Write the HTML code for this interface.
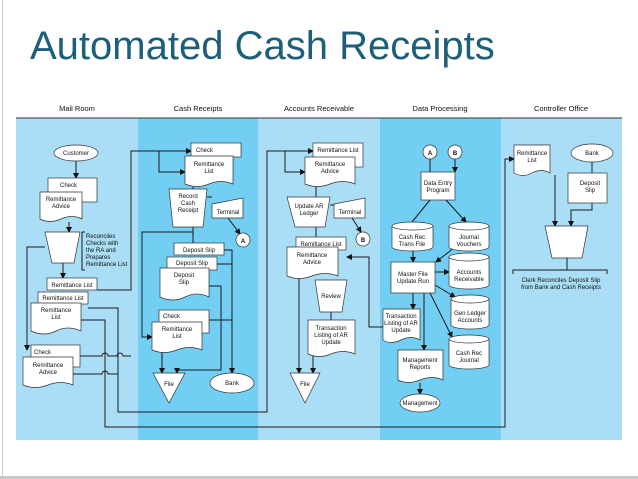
<!DOCTYPE html>
<html><head><meta charset="utf-8"><style>
html,body{margin:0;padding:0;width:638px;height:479px;overflow:hidden;background:#fff}
.t{position:absolute;left:30px;top:24px;font:40px "Liberation Sans",sans-serif;color:#1d5f78;white-space:nowrap}
svg{position:absolute;left:0;top:0}
text{font-family:"Liberation Sans",sans-serif;font-size:6px;fill:#111}
</style></head><body>
<div style="position:absolute;left:2px;top:0;width:1px;height:479px;background:#ccc"></div>
<div style="position:absolute;left:0;top:476px;width:638px;height:3px;background:#c8c8c8"></div>
<div class="t">Automated Cash Receipts</div>
<svg width="638" height="479" viewBox="0 0 638 479">
<defs><marker id="a" markerWidth="6" markerHeight="6" refX="5" refY="3" orient="auto" markerUnits="userSpaceOnUse"><path d="M0,0L6,3L0,6Z" fill="#111"/></marker></defs>
<rect x="16" y="98" width="606" height="342" fill="#a9def6"/>
<rect x="138" y="118" width="120" height="322" fill="#72cff3"/>
<rect x="380" y="118" width="121" height="322" fill="#72cff3"/>
<rect x="16" y="98" width="606" height="20" fill="#fff"/>
<line x1="16" y1="118" x2="622" y2="118" stroke="#333" stroke-width="1"/>
<g text-anchor="middle" style="font-size:7.5px">
<text x="77" y="111" style="font-size:7.5px">Mail Room</text><text x="198" y="111" style="font-size:7.5px">Cash Receipts</text><text x="319" y="111" style="font-size:7.5px">Accounts Receivable</text><text x="440" y="111" style="font-size:7.5px">Data Processing</text><text x="561" y="111" style="font-size:7.5px">Controller Office</text></g>

<g fill="none" stroke="#1a1a1a" stroke-width="1">
<path d="M76 161V178" marker-end="url(#a)"/>
<path d="M69 222V232" marker-end="url(#a)"/>
<path d="M63 263V278" marker-end="url(#a)"/>
<path d="M45 247H27V350" marker-end="url(#a)"/>
<path d="M97 290H131V151H191" marker-end="url(#a)"/>
<path d="M159 151V172H185" marker-end="url(#a)"/>
<path d="M80 356H102a3 3 0 0 1 6 0H117a3 3 0 0 1 6 0H131"/>
<path d="M88 308H118V412H267V151H313" marker-end="url(#a)"/>
<path d="M285 151V172H305" marker-end="url(#a)"/>
<path d="M81 320H105V427H505V159H514" marker-end="url(#a)"/>
<path d="M73 374H102a3 3 0 0 1 6 0H118"/>
<path d="M193 187V189M193 227V243" />
<path d="M193 232H142V337H152" marker-end="url(#a)"/>
<path d="M207 197H212"/><path d="M228 218L240 234" marker-end="url(#a)"/>
<path d="M224 250H232V373" marker-end="url(#a)"/>
<path d="M217 264H232M209 320H232"/>
<path d="M209 286H221V370H177V373" marker-end="url(#a)"/>
<path d="M162 351V373" marker-end="url(#a)"/>
<path d="M316 187V197M316 227V237"/>
<path d="M330 205H334"/><path d="M352 218L361 232" marker-end="url(#a)"/>
<path d="M299 278V373" marker-end="url(#a)"/>
<path d="M313 350V373" marker-end="url(#a)"/>
<path d="M331 312V320"/>
<path d="M383 327H369V257H347" marker-end="url(#a)"/>
<path d="M430 159V172M455 159V172" marker-end="url(#a)"/>
<path d="M430 200L412 222M446 200L466 222" marker-end="url(#a)"/>
<path d="M413 250V262" marker-end="url(#a)"/>
<path d="M455 247L436 262" marker-end="url(#a)"/>
<path d="M435 272H449" marker-end="url(#a)"/>
<path d="M435 285L455 297" marker-end="url(#a)"/>
<path d="M430 293L452 337" marker-end="url(#a)"/>
<path d="M413 293V309" marker-end="url(#a)"/>
<path d="M424 293V350" marker-end="url(#a)"/>
<path d="M420 383V394" marker-end="url(#a)"/>
<path d="M555 175V226" marker-end="url(#a)"/>
<path d="M592 162V173M592 203V210H571V226" marker-end="url(#a)"/>
<path d="M567 258V270"/>
<path d="M513 274V270H607V274"/>
<path d="M82 232H85M82 232V270H85"/>
</g>

<g fill="#fff" stroke="#333" stroke-width="0.7">
<ellipse cx="76" cy="153" rx="22" ry="8"/>
<rect x="48" y="178" width="49" height="24"/>
<path d="M40 192H82V219Q72 214 61 219T40 219Z"/>
<path d="M45 232H80L74 263H52Z"/>
<rect x="47" y="278" width="50" height="12"/>
<rect x="38" y="292" width="50" height="12"/>
<path d="M31 303H81V331Q68 325 56 331T31 331Z"/>
<rect x="31" y="345" width="49" height="22"/>
<path d="M23 357H73V385Q61 380 48 385T23 385Z"/>
<rect x="191" y="143" width="50" height="14"/>
<path d="M185 156H233V184Q221 179 209 184T185 184Z"/>
<path d="M169 189H207L203 227H173Z"/>
<path d="M212 204L243 198V218H212Z"/>
<circle cx="243" cy="240" r="7"/>
<rect x="174" y="243" width="50" height="12"/>
<rect x="167" y="257" width="50" height="13"/>
<path d="M160 268H209V297Q197 291 185 297T160 297Z"/>
<rect x="159" y="310" width="50" height="23"/>
<path d="M152 322H202V350Q190 345 177 350T152 350Z"/>
<path d="M153 373H185L169 403Z"/>
<ellipse cx="232" cy="383" rx="22" ry="10"/>
<rect x="313" y="143" width="50" height="24"/>
<path d="M305 157H355V184Q343 179 330 184T305 184Z"/>
<path d="M287 197H330L325 227H295Z"/>
<path d="M334 204L365 198V218H334Z"/>
<circle cx="363" cy="239" r="7"/>
<rect x="296" y="237" width="50" height="13"/>
<path d="M287 247H338V276Q325 271 312 276T287 276Z"/>
<path d="M315 280H347L342 312H320Z"/>
<path d="M308 320H355V354Q343 349 331 354T308 354Z"/>
<path d="M290 373H320L305 403Z"/>
<circle cx="430" cy="152" r="7"/><circle cx="455" cy="152" r="7"/>
<rect x="421" y="172" width="34" height="28"/>
<path d="M392 226V247A20.5 4 0 0 0 433 247V226"/><ellipse cx="412.5" cy="226" rx="20.5" ry="4"/>
<path d="M449 226V247A20 4 0 0 0 489 247V226"/><ellipse cx="469" cy="226" rx="20" ry="4"/>
<rect x="391" y="262" width="44" height="31"/>
<path d="M449 257V285A20 4 0 0 0 489 285V257"/><ellipse cx="469" cy="257" rx="20" ry="4"/>
<path d="M451 299V325A19 4 0 0 0 489 325V299"/><ellipse cx="470" cy="299" rx="19" ry="4"/>
<path d="M383 309H420V340Q411 335 401 340T383 340Z"/>
<path d="M449 339V365A20 4 0 0 0 489 365V339"/><ellipse cx="469" cy="339" rx="20" ry="4"/>
<path d="M398 350H443V380Q432 375 420 380T398 380Z"/>
<ellipse cx="420" cy="403" rx="20" ry="9"/>
<path d="M514 145H550V173Q541 168 532 173T514 173Z"/>
<ellipse cx="592" cy="153" rx="21" ry="9"/>
<rect x="568" y="173" width="39" height="30"/>
<path d="M545 226H588L582 258H552Z"/>
</g>

<g text-anchor="middle">
<text x="76" y="155">Customer</text>
<text x="60" y="187" text-anchor="start">Check</text>
<text x="61" y="201">Remittance</text><text x="61" y="208">Advice</text>
<text x="72" y="287">Remittance List</text>
<text x="63" y="300">Remittance List</text>
<text x="56" y="312">Remittance</text><text x="56" y="319">List</text>
<text x="34" y="354" text-anchor="start">Check</text>
<text x="48" y="367">Remittance</text><text x="48" y="374">Advice</text>
<text x="196" y="152" text-anchor="start">Check</text>
<text x="209" y="166">Remittance</text><text x="209" y="173">List</text>
<text x="188" y="198">Record</text><text x="188" y="205">Cash</text><text x="188" y="212">Receipt</text>
<text x="228" y="214">Terminal</text>
<text x="243" y="243" style="font-weight:bold">A</text>
<text x="199" y="252">Deposit Slip</text>
<text x="192" y="265">Deposit Slip</text>
<text x="184" y="277">Deposit</text><text x="184" y="284">Slip</text>
<text x="163" y="318" text-anchor="start">Check</text>
<text x="177" y="331">Remittance</text><text x="177" y="338">List</text>
<text x="169" y="386">File</text>
<text x="232" y="385">Bank</text>
<text x="338" y="152">Remittance List</text>
<text x="330" y="166">Remittance</text><text x="330" y="173">Advice</text>
<text x="309" y="208">Update AR</text><text x="309" y="215">Ledger</text>
<text x="350" y="214">Terminal</text>
<text x="363" y="242" style="font-weight:bold">B</text>
<text x="321" y="246">Remittance List</text>
<text x="312" y="257">Remittance</text><text x="312" y="264">Advice</text>
<text x="331" y="298">Review</text>
<text x="331" y="330">Transaction</text><text x="331" y="337">Listing of AR</text><text x="331" y="344">Update</text>
<text x="305" y="386">File</text>
<text x="430" y="155" style="font-weight:bold">A</text><text x="455" y="155" style="font-weight:bold">B</text>
<text x="438" y="185">Data Entry</text><text x="438" y="192">Program</text>
<text x="412" y="239">Cash Rec</text><text x="412" y="246">Trans File</text>
<text x="469" y="239">Journal</text><text x="469" y="246">Vouchers</text>
<text x="413" y="276">Master File</text><text x="413" y="283">Update Run</text>
<text x="469" y="274">Accounts</text><text x="469" y="281">Receivable</text>
<text x="470" y="315">Gen Ledger</text><text x="470" y="322">Accounts</text>
<text x="401" y="318">Transaction</text><text x="401" y="325">Listing of AR</text><text x="401" y="332">Update</text>
<text x="469" y="355">Cash Rec</text><text x="469" y="362">Journal</text>
<text x="420" y="362">Management</text><text x="420" y="369">Reports</text>
<text x="420" y="405">Management</text>
<text x="532" y="155">Remittance</text><text x="532" y="162">List</text>
<text x="592" y="155">Bank</text>
<text x="590" y="185">Deposit</text><text x="590" y="192">Slip</text>
<text x="561" y="282">Clerk Reconciles Deposit Slip</text>
<text x="561" y="289">from Bank and Cash Receipts</text>
</g>
<g><text x="86" y="238">Reconciles</text><text x="86" y="245">Checks with</text><text x="86" y="252">the RA and</text><text x="86" y="259">Prepares</text><text x="86" y="266">Remittance List</text></g>
</svg>
</body></html>
